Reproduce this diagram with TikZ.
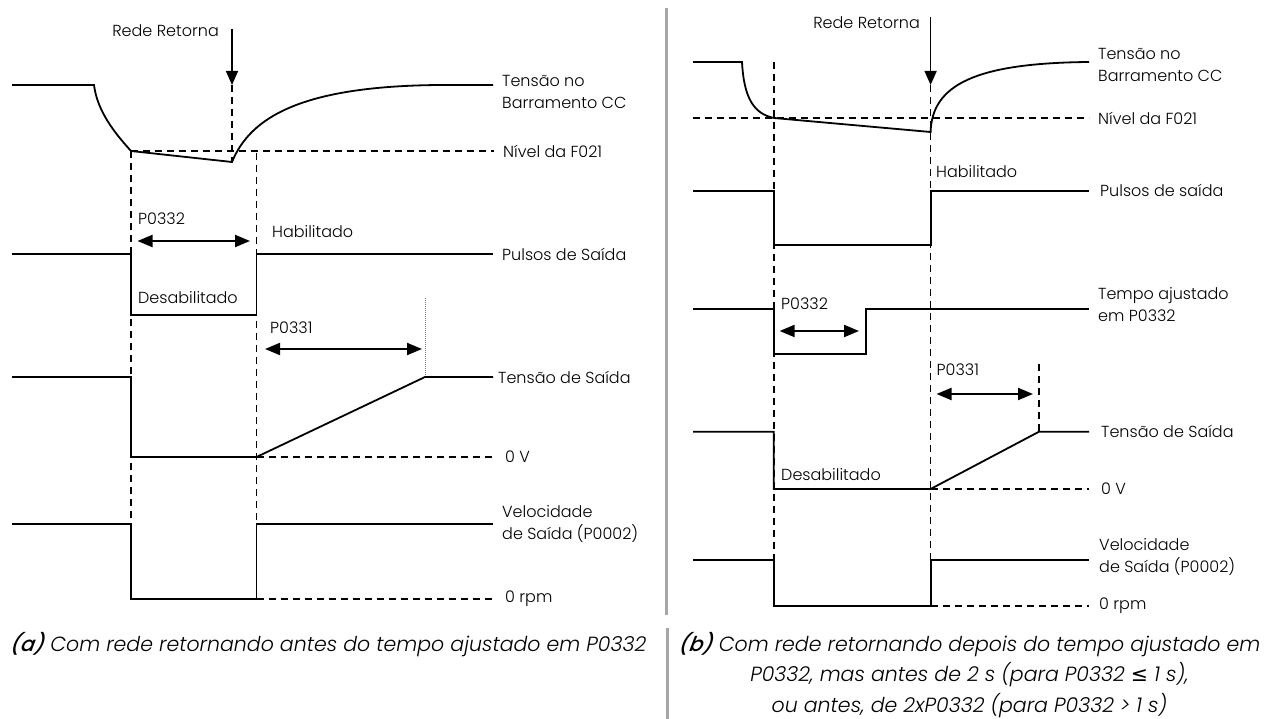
\documentclass[tikz,border=0pt]{standalone}
\usepackage{fontspec}
\usetikzlibrary{arrows.meta}
\newfontfamily\fut{Poppins Light}[ItalicFont={Poppins Light Italic}]
\newfontfamily\futbi{Poppins Medium}[FakeSlant=0.2]
\newfontfamily\dvs{DejaVu Sans}
\tikzset{
  sig/.style={line width=1.8pt, line join=miter},
  dsh/.style={line width=1.7pt, dash pattern=on 7pt off 5pt},
  dim/.style={line width=2pt, {Triangle[length=15pt,width=12pt]}-{Triangle[length=15pt,width=12pt]}},
  rede/.style={line width=1.5pt, -{Triangle[length=14pt,width=12pt]}},
  dotl/.style={line width=0.9pt, gray, dash pattern=on 1pt off 1pt},
  sep/.style={line width=2.4pt, black!35},
  lbl/.style={font=\fut\fontsize{16}{22}\selectfont, inner sep=0pt, anchor=west, align=left},
  capt/.style={font=\fut\itshape\fontsize{20.5}{24}\selectfont, inner sep=0pt, anchor=base},
}
\begin{document}
\begin{tikzpicture}[x=1pt,y=-1pt]
\useasboundingbox (0,0) rectangle (1275,719);
% separator
\draw[sep] (666.5,8) -- (666.5,615);
\draw[sep] (667.5,628) -- (667.5,719);

% ================= LEFT PANEL (a) =================
\coordinate (la1) at (131,151);
\coordinate (la2) at (256.5,153);
% DC bus
\draw[sig] (12,85) -- (94,85) .. controls (97,108) and (110,128) .. (131,151) -- (232,162) .. controls (250,118) and (300,86) .. (440,85) -- (493,85);
\draw[dsh] (131,151) -- (494,151);
% Rede retorna
\node[lbl, anchor=base east] (lrede) at (219,37) {Rede Retorna};
\coordinate (lr0) at (232,29);
\coordinate (lr1) at (232,85);
\coordinate (lr2) at (232,162);
\draw[rede] (lr0) -- (lr1);
\draw[dsh] (lr1) -- (lr2);
% vertical dashed guides
\draw[dsh] (la1) -- (131,600);
\draw[dsh] (la2) -- (256.5,600);
% pulses
\draw[sig] (12,254) -- (131,254) -- (131,315) -- (256.5,315) -- (256.5,254) -- (493,254);
\coordinate (lp1) at (137.5,241);
\coordinate (lp2) at (250,241);
\draw[dim] (lp1) -- (lp2);
% ramp
\coordinate (lq1) at (265,349);
\coordinate (lq2) at (422,349);
\draw[dim] (lq1) -- (lq2);
\draw[dotl] (425,298) -- (425,377);
\draw[sig] (12,377) -- (131,377) -- (131,457) -- (256.5,457) -- (425,377) -- (493,377);
\draw[dsh] (256.5,457) -- (494,457);
% speed
\draw[sig] (12,524) -- (131,524) -- (131,599) -- (256.5,599) -- (256.5,524) -- (493,524);
\draw[dsh] (256.5,599) -- (494,599);
% labels
\node[lbl] (lt1) at (502,92) {Tensão no\\Barramento CC};
\node[lbl] (lt2) at (503,151) {Nível da F021};
\node[lbl] (lt3) at (502,254) {Pulsos de Saída};
\node[lbl] (lt4) at (498,377) {Tensão de Saída};
\node[lbl] (lt5) at (505,457) {0 V};
\node[lbl] (lt6) at (502,523.5) {Velocidade\\de Saída (P0002)};
\node[lbl] (lt7) at (505,599) {0 rpm};
\node[lbl] (lp) at (138,219) {P0332};
\node[lbl] (lh) at (272,232) {Habilitado};
\node[lbl] (ld) at (138,298) {Desabilitado};
\node[lbl] (lq) at (270,328) {P0331};

% ================= RIGHT PANEL (b) =================
\coordinate (ra1) at (773.7,62);
\draw[sig] (693,62) -- (742,62) .. controls (744,100) and (755,114) .. (774,118) -- (930.6,132) .. controls (932,85) and (975,63) .. (1089,62);
\draw[dsh] (693,118) -- (1089,118);
\node[lbl, anchor=base east] (rrede) at (920,28.5) {Rede Retorna};
\coordinate (rr0) at (930.6,17);
\coordinate (rr1) at (930.6,85);
\draw[rede] (rr0) -- (rr1);
\draw[dsh] (rr1) -- (930.6,607);
\draw[dsh] (ra1) -- (773.7,607);
% pulses
\draw[sig] (693,190.7) -- (773.7,190.7) -- (773.7,244.7) -- (930.6,244.7) -- (930.6,190.7) -- (1089,190.7);
% tempo ajustado
\draw[sig] (693,308.7) -- (773.7,308.7) -- (773.7,354) -- (866,354) -- (866,308.7) -- (1089,308.7);
\coordinate (rp1) at (779.6,331);
\coordinate (rp2) at (859,331);
\draw[dim] (rp1) -- (rp2);
% ramp
\coordinate (rq1) at (936.5,394);
\coordinate (rq2) at (1033,394);
\draw[dim] (rq1) -- (rq2);
\draw[dsh] (1039,364) -- (1039,431.7);
\draw[sig] (693,431.7) -- (773.7,431.7) -- (773.7,489) -- (930.6,489) -- (1039,431.7) -- (1089,431.7);
\draw[dsh] (930.6,489) -- (1089,489);
% speed
\draw[sig] (693,560) -- (773.7,560) -- (773.7,605.7) -- (930.6,605.7) -- (930.6,560) -- (1089,560);
\draw[dsh] (930.6,605.7) -- (1089,605.7);
% labels
\node[lbl] (rt1) at (1098,65) {Tensão no\\Barramento CC};
\node[lbl] (rt2) at (1098,118) {Nível da F021};
\node[lbl] (rt3) at (1100,190) {Pulsos de saída};
\node[lbl] (rt4) at (1098,305) {Tempo ajustado\\em P0332};
\node[lbl] (rt5) at (1101,431) {Tensão de Saída};
\node[lbl] (rt6) at (1101,489) {0 V};
\node[lbl] (rt7) at (1099,557) {Velocidade\\de Saída (P0002)};
\node[lbl] (rt8) at (1099,606) {0 rpm};
\node[lbl] (rh) at (936,172) {Habilitado};
\node[lbl] (rp) at (781,304) {P0332};
\node[lbl] (rq) at (936.5,370) {P0331};
\node[lbl] (rd) at (781,475) {Desabilitado};

% ================= CAPTIONS =================
\node[capt, anchor=base west] (capa) at (10,651) {{\futbi (a)} Com rede retornando antes do tempo ajustado em P0332};
\node[capt] (capb1) at (969.5,651) {{\futbi (b)} Com rede retornando depois do tempo ajustado em};
\node[capt] (capb2) at (969.5,681.5) {P0332, mas antes de 2 s (para P0332 {\dvs\itshape ≤} 1 s),};
\node[capt] (capb3) at (969.5,712) {ou antes, de 2xP0332 (para P0332 > 1 s)};
\end{tikzpicture}
\end{document}
